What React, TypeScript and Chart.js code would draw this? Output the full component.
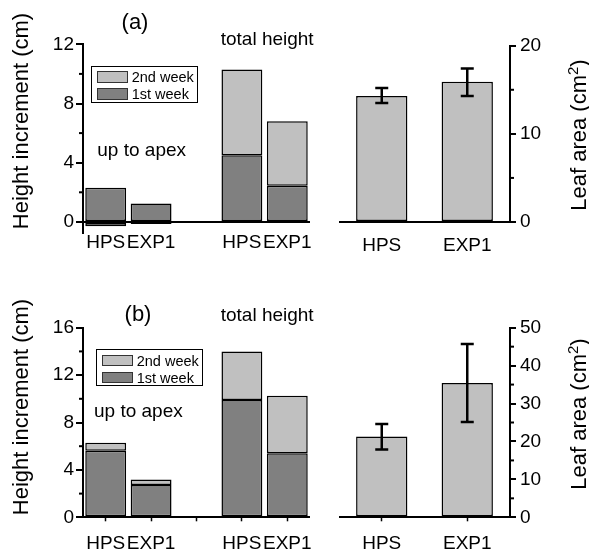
import React, { useEffect, useRef } from 'react';
import { Chart, registerables } from 'chart.js';

Chart.register(...registerables);

const FONT = '"Liberation Sans", Arial, Helvetica, sans-serif';
const DARK = '#808080';
const LIGHT = '#c0c0c0';

// ---------- categories ----------
const heightCats = ['HPS', 'EXP1', '', 'HPS', 'EXP1'];
const leafCats = ['HPS', 'EXP1'];

// ---------- panel (a) ----------
const aWeek1 = [2.3, 1.25, null, 4.5, 2.45];
const aWeek2 = [-0.3, -0.15, null, 5.8, 4.35];
const aLeaf = [14.3, 15.9];
const aLeafLow = [13.5, 14.3];
const aLeafHigh = [15.2, 17.4];
const aHeightTicks = [0, 4, 8, 12];
const aHeightMinor = [2, 6, 10];
const aLeafTicks = [0, 10, 20];
const aLeafMinor = [5, 15];

// ---------- panel (b) ----------
const bWeek1 = [5.62, 2.73, null, 9.9, 5.4];
const bWeek2 = [0.68, 0.47, null, 4.1, 4.86];
const bLeaf = [21.3, 35.4];
const bLeafLow = [17.9, 25.1];
const bLeafHigh = [24.6, 45.7];
const bHeightTicks = [0, 4, 8, 12, 16];
const bHeightMinor = [2, 6, 10, 14];
const bLeafTicks = [0, 10, 20, 30, 40, 50];
const bLeafMinor = [5, 15, 25, 35, 45];

const minorTickPlugin = {
  id: 'minorTicks',
  afterDraw(chart: any, _args: any, opts: any) {
    const s = chart.scales.y;
    const ctx = chart.ctx;
    const left = opts.side === 'left';
    const xEdge = left ? chart.chartArea.left : chart.chartArea.right;
    const dir = left ? -1 : 1;
    ctx.save();
    ctx.strokeStyle = '#000';
    ctx.lineWidth = 2;
    for (const v of opts.values || []) {
      const y = s.getPixelForValue(v);
      ctx.beginPath();
      ctx.moveTo(xEdge, y);
      ctx.lineTo(xEdge + dir * opts.length, y);
      ctx.stroke();
    }
    ctx.restore();
  },
};

const errorBarPlugin = {
  id: 'errorBars',
  afterDatasetsDraw(chart: any, _args: any, opts: any) {
    if (!opts.low) return;
    const s = chart.scales.y;
    const ctx = chart.ctx;
    const meta = chart.getDatasetMeta(0);
    ctx.save();
    ctx.strokeStyle = '#000';
    ctx.lineWidth = 2.5;
    meta.data.forEach((bar: any, i: number) => {
      const x = bar.x;
      const yl = s.getPixelForValue(opts.low[i]);
      const yh = s.getPixelForValue(opts.high[i]);
      const cw = 6.5;
      ctx.beginPath();
      ctx.moveTo(x, yl);
      ctx.lineTo(x, yh);
      ctx.moveTo(x - cw, yl);
      ctx.lineTo(x + cw, yl);
      ctx.moveTo(x - cw, yh);
      ctx.lineTo(x + cw, yh);
      ctx.stroke();
    });
    ctx.restore();
  },
};

const tickFont = { family: FONT, size: 19 };

function yGrid(tickLength: number) {
  return {
    drawOnChartArea: true,
    color: (c: any) => (c.tick && c.tick.value === 0 ? '#000' : 'rgba(0,0,0,0)'),
    lineWidth: 2,
    tickLength,
    tickColor: '#000',
    tickWidth: 2,
  };
}

function heightConfig(p: any): any {
  return {
    type: 'bar',
    data: {
      labels: heightCats,
      datasets: [
        {
          label: '1st week',
          data: p.week1,
          backgroundColor: DARK,
          borderColor: '#000',
          borderWidth: 1.5,
          borderSkipped: false,
          barPercentage: 0.9,
          categoryPercentage: 1,
        },
        {
          label: '2nd week',
          data: p.week2,
          backgroundColor: LIGHT,
          borderColor: '#000',
          borderWidth: 1.5,
          borderSkipped: false,
          barPercentage: 0.9,
          categoryPercentage: 1,
        },
      ],
    },
    options: {
      animation: false,
      responsive: false,
      maintainAspectRatio: false,
      layout: { padding: { top: p.padTop, right: p.padRight, left: 0, bottom: 0 } },
      plugins: {
        legend: { display: false },
        tooltip: { enabled: false },
        minorTicks: { side: 'left', values: p.minor, length: 4 },
        errorBars: {},
      },
      scales: {
        x: {
          stacked: true,
          offset: true,
          border: { display: false },
          grid: {
            display: p.xTicks,
            drawOnChartArea: false,
            offset: false,
            tickLength: 4,
            tickColor: '#000',
            tickWidth: 1.5,
          },
          ticks: { font: tickFont, color: '#000', padding: p.xPad, autoSkip: false, maxRotation: 0 },
          afterFit: (s: any) => {
            s.height = p.xH;
          },
        },
        y: {
          stacked: true,
          position: 'left',
          min: p.min,
          max: p.max,
          border: { display: true, color: '#000', width: 2 },
          grid: yGrid(7),
          ticks: { font: tickFont, color: '#000', padding: 2 },
          afterBuildTicks: (s: any) => {
            s.ticks = p.ticks.map((v: number) => ({ value: v }));
          },
          afterFit: (s: any) => {
            s.width = p.yW;
          },
        },
      },
    },
    plugins: [minorTickPlugin, errorBarPlugin],
  };
}

function leafConfig(p: any): any {
  return {
    type: 'bar',
    data: {
      labels: leafCats,
      datasets: [
        {
          label: 'Leaf area',
          data: p.values,
          backgroundColor: LIGHT,
          borderColor: '#000',
          borderWidth: 1.5,
          borderSkipped: false,
          barPercentage: 0.6,
          categoryPercentage: 1,
        },
      ],
    },
    options: {
      animation: false,
      responsive: false,
      maintainAspectRatio: false,
      layout: { padding: { top: p.padTop, right: 0, left: p.padLeft, bottom: 0 } },
      plugins: {
        legend: { display: false },
        tooltip: { enabled: false },
        minorTicks: { side: 'right', values: p.minor, length: 4 },
        errorBars: { low: p.low, high: p.high },
      },
      scales: {
        x: {
          offset: true,
          border: { display: false },
          grid: {
            display: p.xTicks,
            drawOnChartArea: false,
            offset: false,
            tickLength: 4,
            tickColor: '#000',
            tickWidth: 1.5,
          },
          ticks: { font: tickFont, color: '#000', padding: p.xPad, autoSkip: false, maxRotation: 0 },
          afterFit: (s: any) => {
            s.height = p.xH;
          },
        },
        y: {
          position: 'right',
          min: p.min,
          max: p.max,
          border: { display: true, color: '#000', width: 2 },
          grid: yGrid(6),
          ticks: { font: tickFont, color: '#000', padding: 4 },
          afterBuildTicks: (s: any) => {
            s.ticks = p.ticks.map((v: number) => ({ value: v }));
          },
          afterFit: (s: any) => {
            s.width = p.yW;
          },
        },
      },
    },
    plugins: [minorTickPlugin, errorBarPlugin],
  };
}

function ChartCanvas({ left, top, width, height, config }: any) {
  const ref = useRef<HTMLCanvasElement | null>(null);
  useEffect(() => {
    if (!ref.current) return;
    const chart = new Chart(ref.current, config);
    return () => chart.destroy();
  }, []);
  return (
    <canvas
      ref={ref}
      width={width}
      height={height}
      style={{ position: 'absolute', left, top, width, height }}
    />
  );
}

function Txt({ x, y, size, children, anchor = 'center', rotate = false }: any) {
  const tx = anchor === 'center' ? '-50%' : '0';
  return (
    <div
      style={{
        position: 'absolute',
        left: x,
        top: y,
        transform: `translate(${tx}, -50%)${rotate ? ' rotate(-90deg)' : ''}`,
        transformOrigin: 'center center',
        fontFamily: FONT,
        fontSize: size,
        whiteSpace: 'nowrap',
        color: '#000',
      }}
    >
      {children}
    </div>
  );
}

function Legend({ x, y }: any) {
  const sw = (bg: string, top: number) => (
    <div
      style={{
        position: 'absolute',
        left: 5,
        top,
        width: 29,
        height: 9.5,
        background: bg,
        border: '1.2px solid #333',
      }}
    />
  );
  const lab = (t: string, cy: number) => (
    <div
      style={{
        position: 'absolute',
        left: 40,
        top: cy,
        transform: 'translateY(-50%)',
        fontFamily: FONT,
        fontSize: 14.5,
        whiteSpace: 'nowrap',
      }}
    >
      {t}
    </div>
  );
  return (
    <div
      style={{
        position: 'absolute',
        left: x,
        top: y,
        width: 105,
        height: 35,
        border: '1px solid #000',
        background: '#fff',
      }}
    >
      {sw(LIGHT, 4.5)}
      {lab('2nd week', 10.5)}
      {sw(DARK, 21.5)}
      {lab('1st week', 27.5)}
    </div>
  );
}

export default function App() {
  const aLeft = heightConfig({
    week1: aWeek1,
    week2: aWeek2,
    min: -0.75,
    max: 12,
    ticks: aHeightTicks,
    minor: aHeightMinor,
    padTop: 44.3,
    padRight: 20,
    xH: 32,
    xPad: -6,
    xTicks: false,
    yW: 83,
  });
  const aRight = leafConfig({
    values: aLeaf,
    low: aLeafLow,
    high: aLeafHigh,
    min: 0,
    max: 20,
    ticks: aLeafTicks,
    minor: aLeafMinor,
    padTop: 45.7,
    padLeft: 9,
    xH: 43,
    xPad: 8.5,
    xTicks: false,
    yW: 79,
  });
  const bLeft = heightConfig({
    week1: bWeek1,
    week2: bWeek2,
    min: 0,
    max: 16,
    ticks: bHeightTicks,
    minor: bHeightMinor,
    padTop: 57.7,
    padRight: 20,
    xH: 37.7,
    xPad: 10.8,
    xTicks: true,
    yW: 83,
  });
  const bRight = leafConfig({
    values: bLeaf,
    low: bLeafLow,
    high: bLeafHigh,
    min: 0,
    max: 50,
    ticks: bLeafTicks,
    minor: bLeafMinor,
    padTop: 57.7,
    padLeft: 9,
    xH: 37.7,
    xPad: 10.8,
    xTicks: true,
    yW: 79,
  });

  return (
    <div style={{ position: 'absolute', left: 0, top: 0, width: 589, height: 555, background: '#fff', overflow: 'hidden' }}>
      <ChartCanvas left={0} top={0} width={330} height={265} config={aLeft} />
      <ChartCanvas left={330} top={0} width={259} height={265} config={aRight} />
      <ChartCanvas left={0} top={270} width={330} height={285} config={bLeft} />
      <ChartCanvas left={330} top={270} width={259} height={285} config={bRight} />

      <Txt x={135} y={21.5} size={22}>(a)</Txt>
      <Txt x={220.7} y={39} size={19} anchor="left">total height</Txt>
      <Txt x={97.3} y={149.5} size={19} anchor="left">up to apex</Txt>
      <Legend x={90.7} y={65.7} />

      <Txt x={138} y={314} size={22}>(b)</Txt>
      <Txt x={220.7} y={315} size={19} anchor="left">total height</Txt>
      <Txt x={94} y={411} size={19} anchor="left">up to apex</Txt>
      <Legend x={95.7} y={349} />

      <Txt x={21} y={121} size={22} rotate>Height increment (cm)</Txt>
      <Txt x={21} y={406.7} size={22} rotate>Height increment (cm)</Txt>
      <Txt x={579} y={135} size={22} rotate>
        <span>Leaf area (cm</span>
        <sup style={{ fontSize: 15, lineHeight: 0, verticalAlign: '0.55em' }}>2</sup>
        <span>)</span>
      </Txt>
      <Txt x={579} y={414} size={22} rotate>
        <span>Leaf area (cm</span>
        <sup style={{ fontSize: 15, lineHeight: 0, verticalAlign: '0.55em' }}>2</sup>
        <span>)</span>
      </Txt>
    </div>
  );
}
